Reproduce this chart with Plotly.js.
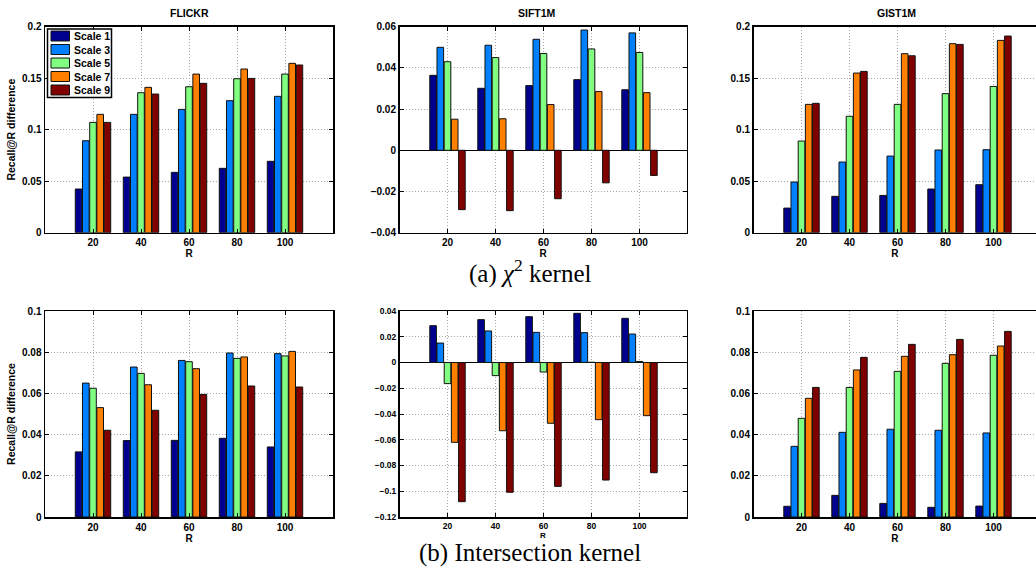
<!DOCTYPE html>
<html>
<head>
<meta charset="utf-8">
<script src="https://cdn.plot.ly/plotly-3.0.1.min.js"></script>
<style>html,body{margin:0;padding:0;background:#fff;}#chart{width:1036px;height:571px;}</style>
</head>
<body>
<div id="chart"></div>
<script>
// ---- data ----
const R = [20, 40, 60, 80, 100];
const scaleNames = ['Scale 1', 'Scale 3', 'Scale 5', 'Scale 7', 'Scale 9'];
const scaleColors = ['#00008F', '#0080FF', '#80FF80', '#FF8000', '#800000'];
const panelTitles = ['FLICKR', 'SIFT1M', 'GIST1M'];
const captions = ['(a) <i>χ</i><sup>2</sup> kernel', '(b) Intersection kernel'];
const yTitle = 'Recall@R difference';
const xTitle = 'R';

// chi2 kernel (rows: Scale 1,3,5,7,9 ; columns: R = 20..100)
const flickrChi = [
  [0.0424, 0.0540, 0.0586, 0.0625, 0.0693],
  [0.0893, 0.1149, 0.1197, 0.1282, 0.1324],
  [0.1071, 0.1359, 0.1417, 0.1495, 0.1540],
  [0.1149, 0.1411, 0.1540, 0.1589, 0.1644],
  [0.1071, 0.1346, 0.1450, 0.1498, 0.1628]
];
const siftChi = [
  [0.0364, 0.0301, 0.0314, 0.0343, 0.0294],
  [0.0500, 0.0510, 0.0539, 0.0584, 0.0570],
  [0.0430, 0.0450, 0.0470, 0.0492, 0.0475],
  [0.0151, 0.0153, 0.0222, 0.0285, 0.0280],
  [-0.0288, -0.0293, -0.0235, -0.0158, -0.0122]
];
const gistChi = [
  [0.0239, 0.0353, 0.0362, 0.0424, 0.0466],
  [0.0492, 0.0686, 0.0744, 0.0803, 0.0806],
  [0.0890, 0.1130, 0.1246, 0.1350, 0.1420],
  [0.1246, 0.1550, 0.1738, 0.1835, 0.1867],
  [0.1256, 0.1566, 0.1718, 0.1828, 0.1909]
];
// intersection kernel
const flickrInt = [
  [0.0316, 0.0371, 0.0372, 0.0382, 0.0340],
  [0.0650, 0.0728, 0.0760, 0.0796, 0.0793],
  [0.0625, 0.0697, 0.0754, 0.0770, 0.0782],
  [0.0531, 0.0642, 0.0720, 0.0777, 0.0804],
  [0.0421, 0.0518, 0.0595, 0.0636, 0.0631]
];
const siftInt = [
  [0.0286, 0.0333, 0.0356, 0.0382, 0.0343],
  [0.0151, 0.0245, 0.0234, 0.0232, 0.0221],
  [-0.0164, -0.0102, -0.0074, 0.0002, 0.0008],
  [-0.0620, -0.0530, -0.0472, -0.0444, -0.0413],
  [-0.1081, -0.1008, -0.0962, -0.0913, -0.0856]
];
const gistInt = [
  [0.0052, 0.0105, 0.0066, 0.0047, 0.0053],
  [0.0343, 0.0411, 0.0426, 0.0421, 0.0408],
  [0.0479, 0.0629, 0.0707, 0.0746, 0.0785],
  [0.0576, 0.0714, 0.0780, 0.0788, 0.0830],
  [0.0629, 0.0775, 0.0838, 0.0862, 0.0901]
];

const panels = [flickrChi, siftChi, gistChi, flickrInt, siftInt, gistInt];
const yRanges = [[0, 0.2], [-0.04, 0.06], [0, 0.2], [0, 0.1], [-0.12, 0.04], [0, 0.1]];
const yDticks = [0.05, 0.02, 0.05, 0.02, 0.02, 0.02];

// ---- layout geometry (pixels) ----
const W = 1036, H = 571;
const colX = [[45, 333], [399.5, 686.5], [753.5, 1036]];
const rowY = [[26.7, 232.7], [311, 517]];
const pxPerUnit = (333 - 45) / 120;

const FONT = 'Liberation Sans, Arial, Helvetica, sans-serif';
const GRID = {showgrid: true, gridcolor: '#a8a8a8', griddash: '1px,2px', gridwidth: 1};
const traces = [];
const layout = {
  width: W, height: H,
  margin: {l: 0, r: 0, t: 0, b: 0},
  paper_bgcolor: '#fff', plot_bgcolor: '#fff',
  barmode: 'group', bargap: 0.25, bargroupgap: 0.08,
  showlegend: false,
  font: {family: FONT, color: '#000'},
  annotations: [],
  shapes: []
};

panels.forEach((data, p) => {
  const col = p % 3, row = Math.floor(p / 3);
  const idx = p === 0 ? '' : String(p + 1);
  const small = (p === 4);
  data.forEach((vals, s) => {
    traces.push({
      type: 'bar', x: R, y: vals, name: scaleNames[s],
      xaxis: 'x' + idx, yaxis: 'y' + idx,
      marker: {color: scaleColors[s], line: {color: '#111', width: 1}},
      hoverinfo: 'x+y+name'
    });
  });
  const xr = [0, (colX[col][1] - colX[col][0]) / pxPerUnit];
  const tickFont = {family: FONT, size: small ? 8.5 : 10, weight: 700, color: '#000'};
  layout['xaxis' + idx] = Object.assign({
    domain: [colX[col][0] / W, colX[col][1] / W],
    anchor: 'y' + idx, range: xr, tickvals: R, ticktext: R.map(String),
    ticks: 'inside', ticklen: 4, tickcolor: '#000',
    showline: true, linecolor: '#000', linewidth: 1.5, mirror: (col === 2 ? true : 'ticks'),
    zeroline: false, tickfont: tickFont,
    title: {text: xTitle, font: {family: FONT, size: small ? 8 : 10, weight: 700, color: '#000'}, standoff: 0}
  }, GRID);
  const yax = Object.assign({
    domain: [1 - rowY[row][1] / H, 1 - rowY[row][0] / H],
    anchor: 'x' + idx, range: yRanges[p], dtick: yDticks[p],
    ticks: 'inside', ticklen: 4, tickcolor: '#000',
    showline: true, linecolor: '#000', linewidth: 1.5, mirror: (col === 2 ? false : 'ticks'),
    zeroline: yRanges[p][0] < 0, zerolinecolor: '#000', zerolinewidth: 1,
    tickfont: tickFont
  }, GRID);
  if (col === 0) {
    yax.title = {text: yTitle, font: {family: FONT, size: 10.5, weight: 700, color: '#000'}, standoff: 4};
  }
  layout['yaxis' + idx] = yax;
});

// ---- legend (drawn as a MATLAB-style box inside the FLICKR panel) ----
const LEG = {x0: 47.5, x1: 111.5, y0: 29, y1: 97.5, patchX0: 51, patchX1: 69.5, textX: 72, rowH: 13.5, patchH: 10};
layout.shapes.push({
  type: 'rect', xref: 'paper', yref: 'paper',
  x0: LEG.x0 / W, x1: LEG.x1 / W, y0: 1 - LEG.y1 / H, y1: 1 - LEG.y0 / H,
  fillcolor: '#fff', line: {color: '#000', width: 1.5}, layer: 'above'
});
scaleNames.forEach((nm, s) => {
  const cy = LEG.y0 + 7 + s * LEG.rowH;
  layout.shapes.push({
    type: 'rect', xref: 'paper', yref: 'paper',
    x0: LEG.patchX0 / W, x1: LEG.patchX1 / W,
    y0: 1 - (cy + LEG.patchH / 2) / H, y1: 1 - (cy - LEG.patchH / 2) / H,
    fillcolor: scaleColors[s], line: {color: '#111', width: 1}, layer: 'above'
  });
  layout.annotations.push({
    text: nm, xref: 'paper', yref: 'paper', x: LEG.textX / W, y: 1 - cy / H,
    xanchor: 'left', yanchor: 'middle', showarrow: false,
    font: {family: FONT, size: 10.5, weight: 700, color: '#000'}
  });
});

// panel titles
const titleX = [189, 537, 896.7];
panelTitles.forEach((t, i) => {
  layout.annotations.push({
    text: t, xref: 'paper', yref: 'paper', x: titleX[i] / W, y: 1 - 13 / H,
    xanchor: 'center', yanchor: 'middle', showarrow: false,
    font: {family: FONT, size: 10.5, weight: 700, color: '#000'}
  });
});
// captions
const capY = [271, 553];
captions.forEach((c, i) => {
  layout.annotations.push({
    text: c, xref: 'paper', yref: 'paper', x: 530 / W, y: 1 - capY[i] / H,
    xanchor: 'center', yanchor: 'middle', showarrow: false,
    font: {family: 'Liberation Serif, Times New Roman, serif', size: 25, color: '#000'}
  });
});

Plotly.newPlot('chart', traces, layout, {staticPlot: true, displayModeBar: false});
</script>
</body>
</html>
